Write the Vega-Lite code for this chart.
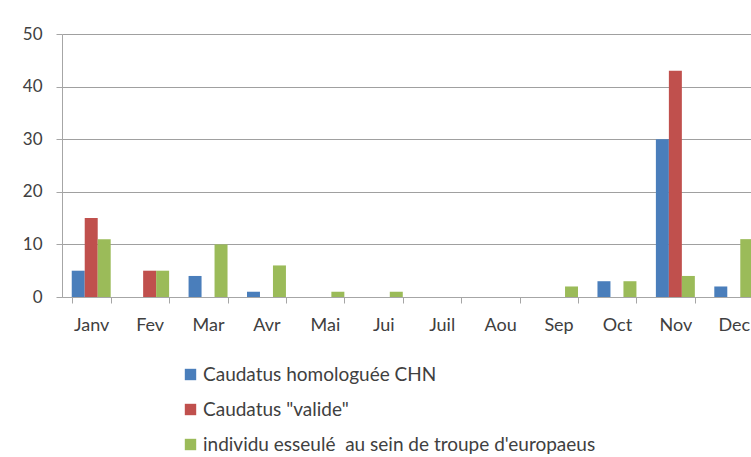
{
  "$schema": "https://vega.github.io/schema/vega-lite/v6.json",
  "autosize": "none",
  "width": 701,
  "height": 263,
  "padding": {"left": 62, "top": 34, "right": 0, "bottom": 160},
  "background": "white",
  "config": {
    "font": "Lato",
    "view": {"stroke": null},
    "axis": {"labelFont": "Lato", "labelColor": "#404040", "domainColor": "#a6a6a6", "tickColor": "#a6a6a6", "gridColor": "#a0a0a0"}
  },
  "data": {
    "values": [
      {"mois": "Janv", "serie": "Caudatus homologuée CHN", "n": 5},
      {"mois": "Janv", "serie": "Caudatus \"valide\"", "n": 15},
      {"mois": "Janv", "serie": "individu esseulé  au sein de troupe d'europaeus", "n": 11},
      {"mois": "Fev", "serie": "Caudatus homologuée CHN", "n": 0},
      {"mois": "Fev", "serie": "Caudatus \"valide\"", "n": 5},
      {"mois": "Fev", "serie": "individu esseulé  au sein de troupe d'europaeus", "n": 5},
      {"mois": "Mar", "serie": "Caudatus homologuée CHN", "n": 4},
      {"mois": "Mar", "serie": "Caudatus \"valide\"", "n": 0},
      {"mois": "Mar", "serie": "individu esseulé  au sein de troupe d'europaeus", "n": 10},
      {"mois": "Avr", "serie": "Caudatus homologuée CHN", "n": 1},
      {"mois": "Avr", "serie": "Caudatus \"valide\"", "n": 0},
      {"mois": "Avr", "serie": "individu esseulé  au sein de troupe d'europaeus", "n": 6},
      {"mois": "Mai", "serie": "Caudatus homologuée CHN", "n": 0},
      {"mois": "Mai", "serie": "Caudatus \"valide\"", "n": 0},
      {"mois": "Mai", "serie": "individu esseulé  au sein de troupe d'europaeus", "n": 1},
      {"mois": "Jui", "serie": "Caudatus homologuée CHN", "n": 0},
      {"mois": "Jui", "serie": "Caudatus \"valide\"", "n": 0},
      {"mois": "Jui", "serie": "individu esseulé  au sein de troupe d'europaeus", "n": 1},
      {"mois": "Juil", "serie": "Caudatus homologuée CHN", "n": 0},
      {"mois": "Juil", "serie": "Caudatus \"valide\"", "n": 0},
      {"mois": "Juil", "serie": "individu esseulé  au sein de troupe d'europaeus", "n": 0},
      {"mois": "Aou", "serie": "Caudatus homologuée CHN", "n": 0},
      {"mois": "Aou", "serie": "Caudatus \"valide\"", "n": 0},
      {"mois": "Aou", "serie": "individu esseulé  au sein de troupe d'europaeus", "n": 0},
      {"mois": "Sep", "serie": "Caudatus homologuée CHN", "n": 0},
      {"mois": "Sep", "serie": "Caudatus \"valide\"", "n": 0},
      {"mois": "Sep", "serie": "individu esseulé  au sein de troupe d'europaeus", "n": 2},
      {"mois": "Oct", "serie": "Caudatus homologuée CHN", "n": 3},
      {"mois": "Oct", "serie": "Caudatus \"valide\"", "n": 0},
      {"mois": "Oct", "serie": "individu esseulé  au sein de troupe d'europaeus", "n": 3},
      {"mois": "Nov", "serie": "Caudatus homologuée CHN", "n": 30},
      {"mois": "Nov", "serie": "Caudatus \"valide\"", "n": 43},
      {"mois": "Nov", "serie": "individu esseulé  au sein de troupe d'europaeus", "n": 4},
      {"mois": "Dec", "serie": "Caudatus homologuée CHN", "n": 2},
      {"mois": "Dec", "serie": "Caudatus \"valide\"", "n": 0},
      {"mois": "Dec", "serie": "individu esseulé  au sein de troupe d'europaeus", "n": 11}
    ]
  },
  "mark": {"type": "bar"},
  "encoding": {
    "x": {
      "field": "mois", "type": "nominal", "sort": null, "title": null,
      "scale": {"paddingInner": 0.333, "paddingOuter": 0.1667},
      "axis": {"labelAngle": 0, "labelFontSize": 18, "tickBand": "extent", "tickSize": 6, "labelPadding": 13, "grid": false, "domainColor": "#a6a6a6"}
    },
    "y": {
      "field": "n", "type": "quantitative", "title": null,
      "scale": {"domain": [0, 50]},
      "axis": {"values": [0, 10, 20, 30, 40, 50], "labelFontSize": 17, "tickSize": 6, "labelPadding": 14, "gridWidth": 1.2}
    },
    "xOffset": {"field": "serie", "type": "nominal", "sort": null, "scale": {"paddingInner": 0, "paddingOuter": 0}},
    "color": {
      "field": "serie", "type": "nominal", "sort": null,
      "scale": {"range": ["#4a7ebb", "#c0504d", "#9bbb59"]},
      "legend": {
        "title": null, "orient": "none", "direction": "vertical",
        "legendX": 119, "legendY": 331,
        "symbolType": "square", "symbolSize": 130, "symbolStrokeWidth": 0,
        "labelFontSize": 19, "labelColor": "#404040", "labelFont": "Lato", "labelLimit": 600,
        "labelExpr": "replace(datum.label, 'esseulé  au', 'esseulé\u00a0\u00a0au')",
        "rowPadding": 15, "labelOffset": 3
      }
    }
  }
}
